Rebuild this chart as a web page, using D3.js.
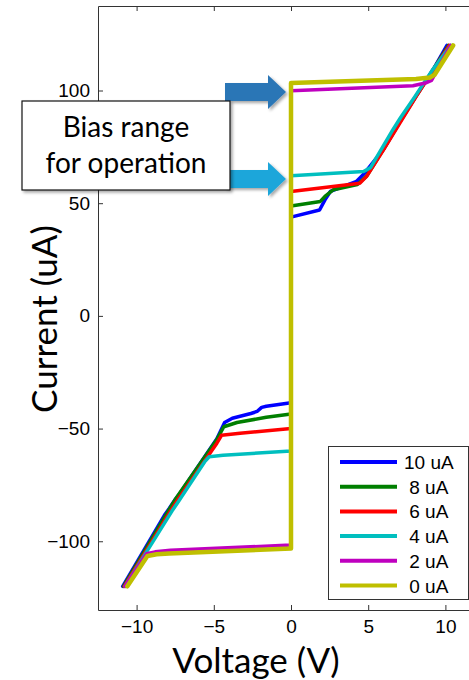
<!DOCTYPE html>
<html>
<head>
<meta charset="utf-8">
<script src="https://d3js.org/d3.v7.min.js"></script>
<style>
  body { margin: 0; background: #fff; }
  svg { display: block; }
</style>
</head>
<body>
<script>
// I-V curves, [voltage (V), current (uA)]
const curve10 = [[-10.9,-120],[-8.2,-88.5],[-7.9,-85.6],[-7.5,-81.5],[-7.2,-78.8],[-4.8,-54.5],[-4.3,-47.3],[-3.8,-45.4],[-2.6,-43.3],[-2.2,-42.4],[-1.9,-40.6],[-1.6,-40.1],[0,-38.5],
                 [0,43.8],[1.85,47],[2.2,51.5],[2.55,55.2],[4.25,59.7],[4.7,62.8],[6,74],[7,85.5],[8.1,97.5],[9.2,109.2],[10.1,120]];
const curve8  = [[-10.85,-120],[-7.9,-86],[-7.5,-81.5],[-4.8,-54.8],[-4.35,-49.2],[-3.5,-47.3],[-1.6,-45],[0,-43.5],
                 [0,48.8],[1.9,50.8],[2.2,53],[2.75,56],[4.3,58.3],[4.9,62],[6,74],[7,85.5],[8.1,97.5],[9.2,109.2],[10.2,120]];
const curve6  = [[-10.8,-120],[-7.8,-86.5],[-7.3,-81.2],[-4.8,-56.5],[-4.5,-53],[-3.3,-52.1],[0,-50],
                 [0,55.2],[4.47,58.9],[4.9,61.9],[6,73.8],[7.05,85.5],[8.1,97.3],[9.2,109],[10.25,120]];
const curve4  = [[-10.75,-120],[-7.7,-86.5],[-7.3,-82.5],[-5.6,-64.8],[-5.3,-62.5],[-4.4,-61.8],[0,-60],
                 [0,62.2],[4.7,64.1],[5.15,65.8],[6.6,82.6],[7.1,88],[8,97],[9.1,108.5],[10.35,120]];
const curve2  = [[-10.75,-120],[-9.35,-105.5],[-8.8,-104.7],[-7.8,-104],[0,-101.7],
                 [0,99.9],[7.9,102.1],[8.7,103.3],[9.1,104.5],[10.35,120]];
const curve0  = [[-10.6,-120],[-9.3,-106.5],[-8.7,-105.8],[-7.9,-105.4],[0,-103.2],
                 [0,103.3],[8.1,105.1],[9,105.8],[9.3,107],[10.5,120]];

const seriesNames  = ["10 uA", " 8 uA", " 6 uA", " 4 uA", " 2 uA", " 0 uA"];
const seriesColors = ["#0000ff", "#007f00", "#ff0000", "#00bfbf", "#bf00bf", "#bfbf00"];
const seriesData   = [curve10, curve8, curve6, curve4, curve2, curve0];

const xTicks = [-10, -5, 0, 5, 10];
const yTicks = [-100, -50, 0, 50, 100];

const W = 469, H = 680;
const marg_l = 98, marg_r = 484, marg_t = 6, marg_b = 610;

const svg = d3.select("body").append("svg")
  .attr("width", W).attr("height", H);

const defs = svg.append("defs");
defs.append("filter").attr("id", "shadow")
  .attr("x", "-10%").attr("y", "-10%").attr("width", "130%").attr("height", "130%")
  .append("feDropShadow")
  .attr("dx", 2).attr("dy", 2).attr("stdDeviation", 1.5)
  .attr("flood-color", "#000").attr("flood-opacity", 0.35);

const x = d3.scaleLinear().domain([-12.5, 12.5]).range([marg_l, marg_r]);
const y = d3.scaleLinear().domain([-130.5, 137.5]).range([marg_b, marg_t]);

// axes box, matlab-style inward ticks
const axisFont = "'Liberation Sans', Arial, sans-serif";

svg.append("g")
  .attr("transform", "translate(0," + marg_b + ")")
  .call(d3.axisBottom(x).tickValues(xTicks).tickSizeInner(-5).tickSizeOuter(0).tickPadding(10))
  .call(g => g.selectAll("text").style("font-size", "19px").style("font-family", axisFont).attr("fill", "#000"));

svg.append("g")
  .attr("transform", "translate(0," + marg_t + ")")
  .call(d3.axisTop(x).tickValues(xTicks).tickSizeInner(-5).tickSizeOuter(0).tickFormat(""));

svg.append("g")
  .attr("transform", "translate(" + marg_l + ",0)")
  .call(d3.axisLeft(y).tickValues(yTicks).tickSizeInner(-5).tickSizeOuter(0).tickPadding(8))
  .call(g => g.selectAll("text").style("font-size", "19px").style("font-family", axisFont).attr("fill", "#000"));

svg.selectAll(".domain, .tick line").attr("stroke", "#333");

// curves
const line = d3.line().x(d => x(d[0])).y(d => y(d[1]));
seriesData.forEach((s, i) => {
  svg.append("path")
    .datum(s)
    .attr("fill", "none")
    .attr("stroke", seriesColors[i])
    .attr("stroke-width", i == 5 ? 4.5 : 3.5)
    .attr("stroke-linejoin", "round")
    .attr("stroke-linecap", "round")
    .attr("d", line);
});

// legend
const legend = svg.append("g");
legend.append("rect")
  .attr("x", 328.5).attr("y", 446.5).attr("width", 140).attr("height", 153)
  .attr("fill", "#fff").attr("stroke", "#333");
seriesNames.forEach((name, i) => {
  const ly = 462 + i * 24.7;
  legend.append("line")
    .attr("x1", 340).attr("x2", 397).attr("y1", ly).attr("y2", ly)
    .attr("stroke", seriesColors[i]).attr("stroke-width", 4);
  legend.append("text")
    .attr("x", 404).attr("y", ly + 7)
    .style("white-space", "pre")
    .style("font-family", axisFont).style("font-size", "19px")
    .attr("fill", "#000")
    .text(name);
});

// axis titles
const titleFont = "Lato, 'Open Sans', sans-serif";
svg.append("text")
  .attr("x", 256).attr("y", 673)
  .attr("text-anchor", "middle")
  .style("font-family", titleFont).style("font-size", "35px")
  .text("Voltage (V)");

svg.append("text")
  .attr("transform", "translate(57,319)rotate(-90)")
  .attr("text-anchor", "middle")
  .style("font-family", titleFont).style("font-size", "35px")
  .text("Current (uA)");

// annotation arrows
function arrow(tipY, color) {
  const p = d3.path();
  p.moveTo(225, tipY - 9);
  p.lineTo(268, tipY - 9);
  p.lineTo(268, tipY - 17);
  p.lineTo(286, tipY);
  p.lineTo(268, tipY + 17);
  p.lineTo(268, tipY + 9);
  p.lineTo(225, tipY + 9);
  p.closePath();
  svg.append("path").attr("d", p.toString())
    .attr("fill", color).attr("filter", "url(#shadow)");
}
arrow(92, "#2b76b6");
arrow(179, "#1fa6da");

const note = svg.append("g");
note.append("rect")
  .attr("x", 22).attr("y", 101).attr("width", 208).attr("height", 89)
  .attr("fill", "#fff").attr("stroke", "#111").attr("stroke-width", 1.2)
  .attr("filter", "url(#shadow)");
note.append("text")
  .attr("x", 126).attr("y", 137)
  .attr("text-anchor", "middle")
  .style("font-family", titleFont).style("font-size", "28px")
  .text("Bias range");
note.append("text")
  .attr("x", 126).attr("y", 173)
  .attr("text-anchor", "middle")
  .style("font-family", titleFont).style("font-size", "28px")
  .text("for operation");
</script>
</body>
</html>
